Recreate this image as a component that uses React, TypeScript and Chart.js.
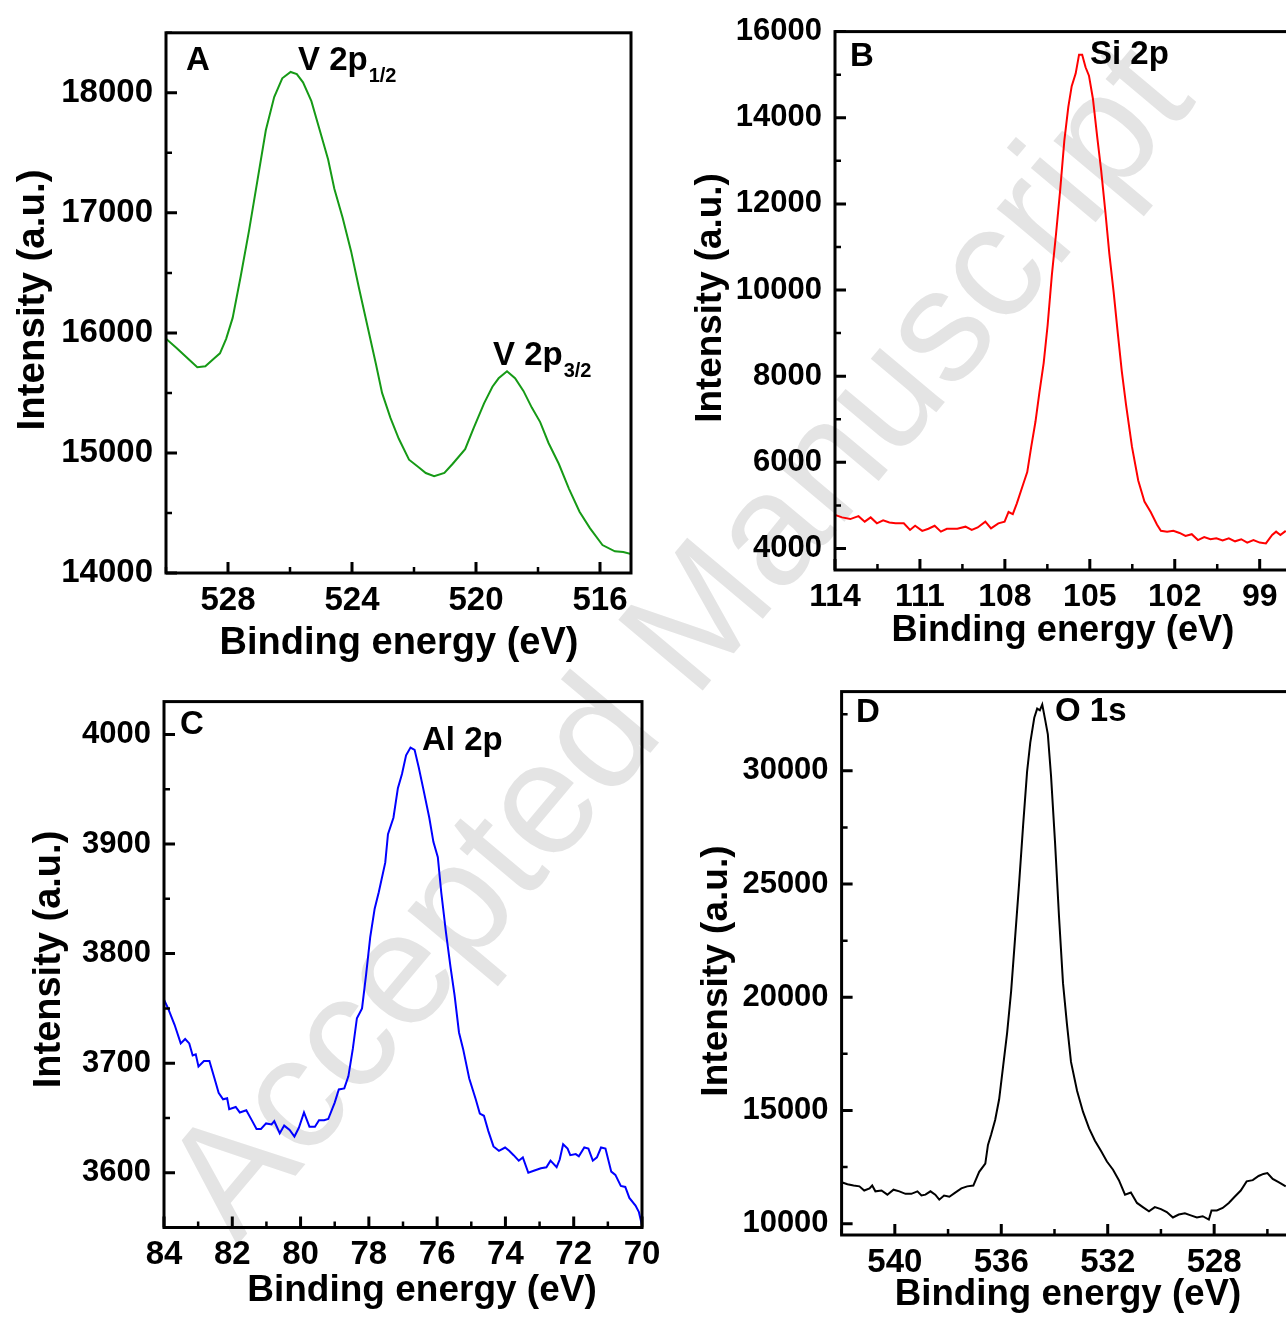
import React, { useEffect, useRef } from "react";
import { Chart, registerables } from "chart.js";

Chart.register(...registerables);

// ---------- Data ----------
// Panel A: V 2p
const vEnergy = [530, 529.66, 529.26, 528.99, 528.73, 528.46, 528.26, 528.06, 527.85, 527.59, 527.32, 527.05, 526.78, 526.51, 526.25, 525.98, 525.78, 525.58, 525.31, 525.04, 524.77, 524.57, 524.3, 524.03, 523.77, 523.5, 523.23, 523.03, 522.76, 522.49, 522.16, 521.82, 521.62, 521.35, 521.02, 520.75, 520.35, 520.08, 519.74, 519.47, 519.27, 519.0, 518.74, 518.47, 518.2, 517.93, 517.66, 517.33, 517.0, 516.66, 516.32, 515.92, 515.52, 515.25, 514.92];
const vIntensity = [15951, 15875, 15778, 15715, 15722, 15785, 15830, 15951, 16125, 16472, 16854, 17271, 17688, 17965, 18121, 18174, 18156, 18087, 17931, 17688, 17444, 17201, 16958, 16681, 16368, 16056, 15743, 15500, 15292, 15118, 14944, 14875, 14833, 14806, 14833, 14910, 15031, 15205, 15413, 15552, 15622, 15681, 15622, 15517, 15378, 15257, 15083, 14910, 14701, 14510, 14372, 14233, 14181, 14174, 14153];

// Panel B: Si 2p
const siEnergy = [114, 113.75, 113.46, 113.17, 112.95, 112.74, 112.52, 112.3, 112.08, 111.86, 111.57, 111.35, 111.17, 110.92, 110.7, 110.48, 110.26, 110.05, 109.68, 109.39, 109.17, 108.96, 108.69, 108.49, 108.23, 108.01, 107.87, 107.72, 107.58, 107.36, 107.21, 107.07, 106.92, 106.78, 106.63, 106.49, 106.34, 106.19, 106.05, 105.9, 105.76, 105.64, 105.5, 105.38, 105.27, 105.15, 105.03, 104.89, 104.74, 104.6, 104.45, 104.31, 104.16, 104.01, 103.87, 103.72, 103.51, 103.29, 103.07, 102.85, 102.63, 102.49, 102.27, 102.05, 101.83, 101.62, 101.4, 101.18, 100.96, 100.74, 100.53, 100.31, 100.09, 99.87, 99.65, 99.44, 99.22, 99.0, 98.78, 98.56, 98.42, 98.27, 98.08];
const siIntensity = [4779, 4721, 4682, 4750, 4623, 4721, 4584, 4653, 4604, 4584, 4584, 4429, 4526, 4409, 4458, 4526, 4390, 4458, 4458, 4506, 4429, 4487, 4623, 4468, 4584, 4623, 4847, 4798, 5042, 5480, 5773, 6357, 6941, 7623, 8305, 9182, 10350, 11324, 12298, 13467, 14246, 14733, 15025, 15464, 15464, 15172, 14977, 14441, 13564, 12785, 11812, 10838, 9961, 8987, 8110, 7331, 6357, 5578, 5091, 4847, 4555, 4409, 4390, 4409, 4360, 4292, 4331, 4195, 4263, 4214, 4234, 4185, 4234, 4166, 4214, 4136, 4195, 4136, 4117, 4312, 4390, 4312, 4409];

// Panel C: Al 2p
const alEnergy = [84, 83.88, 83.69, 83.51, 83.38, 83.26, 83.16, 83.07, 82.99, 82.83, 82.67, 82.52, 82.4, 82.27, 82.15, 82.09, 81.9, 81.78, 81.59, 81.43, 81.29, 81.16, 81.01, 80.85, 80.77, 80.61, 80.48, 80.32, 80.18, 80.05, 79.9, 79.74, 79.58, 79.46, 79.31, 79.19, 79.0, 78.88, 78.72, 78.6, 78.47, 78.35, 78.2, 78.08, 77.96, 77.83, 77.71, 77.52, 77.44, 77.28, 77.15, 77.03, 76.91, 76.78, 76.66, 76.54, 76.41, 76.23, 76.11, 75.98, 75.88, 75.74, 75.61, 75.49, 75.36, 75.24, 75.06, 74.87, 74.75, 74.63, 74.5, 74.35, 74.19, 74.01, 73.89, 73.76, 73.61, 73.49, 73.33, 73.15, 72.96, 72.8, 72.68, 72.5, 72.41, 72.31, 72.18, 72.1, 71.94, 71.85, 71.69, 71.57, 71.44, 71.32, 71.2, 71.07, 70.9, 70.78, 70.62, 70.49, 70.37, 70.19, 70.09, 70.0];
const alIntensity = [3758, 3750, 3735, 3718, 3722, 3718, 3707, 3708, 3697, 3702, 3702, 3686, 3673, 3667, 3668, 3658, 3660, 3655, 3657, 3648, 3640, 3640, 3645, 3644, 3647, 3636, 3643, 3639, 3633, 3641, 3655, 3642, 3642, 3648, 3648, 3649, 3664, 3676, 3677, 3688, 3713, 3741, 3750, 3781, 3815, 3841, 3856, 3883, 3909, 3924, 3951, 3964, 3981, 3988, 3986, 3970, 3951, 3924, 3902, 3888, 3856, 3819, 3788, 3762, 3728, 3713, 3686, 3667, 3654, 3652, 3638, 3624, 3620, 3623, 3620, 3616, 3611, 3614, 3600, 3602, 3604, 3605, 3611, 3605, 3612, 3626, 3622, 3616, 3617, 3615, 3623, 3622, 3611, 3614, 3623, 3622, 3601, 3598, 3588, 3587, 3577, 3570, 3564, 3552];

// Panel D: O 1s
const oEnergy = [542, 541.78, 541.55, 541.33, 541.15, 540.95, 540.85, 540.73, 540.5, 540.28, 540.05, 539.83, 539.6, 539.38, 539.15, 539.0, 538.85, 538.66, 538.48, 538.33, 538.15, 537.95, 537.73, 537.5, 537.28, 537.05, 536.83, 536.6, 536.5, 536.38, 536.23, 536.08, 535.93, 535.78, 535.63, 535.48, 535.33, 535.18, 535.03, 534.91, 534.76, 534.65, 534.55, 534.46, 534.35, 534.25, 534.13, 533.98, 533.83, 533.68, 533.53, 533.38, 533.15, 532.93, 532.7, 532.48, 532.25, 532.03, 531.8, 531.58, 531.35, 531.13, 530.9, 530.68, 530.45, 530.23, 530.0, 529.78, 529.55, 529.33, 529.1, 528.88, 528.65, 528.43, 528.2, 528.1, 527.9, 527.68, 527.45, 527.23, 527.0, 526.78, 526.55, 526.33, 526.15, 526.0, 525.8, 525.58, 525.31];
const oIntensity = [11832, 11740, 11685, 11648, 11465, 11557, 11685, 11429, 11465, 11282, 11502, 11429, 11319, 11319, 11429, 11245, 11282, 11429, 11282, 11062, 11245, 11190, 11374, 11557, 11648, 11685, 12289, 12656, 13480, 13938, 14579, 15495, 16960, 18425, 20256, 22637, 25018, 27582, 29963, 31245, 32344, 32747, 32674, 32930, 32253, 31612, 29780, 26850, 23553, 20623, 18791, 17143, 15861, 14945, 14212, 13663, 13205, 12747, 12381, 11923, 11282, 11374, 10916, 10733, 10549, 10733, 10641, 10513, 10275, 10403, 10458, 10366, 10275, 10330, 10183, 10586, 10586, 10696, 10916, 11190, 11465, 11868, 11923, 12106, 12198, 12234, 11978, 11832, 11648];

// Tick values
const aXMajor = [528, 524, 520, 516];
const aXMinor = [530, 526, 522, 518];
const aYMajor = [14000, 15000, 16000, 17000, 18000];
const aYMinor = [14500, 15500, 16500, 17500, 18500];

const bXMajor = [114, 111, 108, 105, 102, 99];
const bXMinor = [112.5, 109.5, 106.5, 103.5, 100.5];
const bYMajor = [4000, 6000, 8000, 10000, 12000, 14000, 16000];
const bYMinor = [5000, 7000, 9000, 11000, 13000, 15000];

const cXMajor = [84, 82, 80, 78, 76, 74, 72, 70];
const cXMinor = [83, 81, 79, 77, 75, 73, 71];
const cYMajor = [3600, 3700, 3800, 3900, 4000];
const cYMinor = [3550, 3650, 3750, 3850, 3950];

const dXMajor = [540, 536, 532, 528];
const dXMinor = [542, 538, 534, 530, 526];
const dYMajor = [10000, 15000, 20000, 25000, 30000];
const dYMinor = [12500, 17500, 22500, 27500, 32500];

const xTitle = "Binding energy (eV)";
const yTitle = "Intensity (a.u.)";
const watermark = "Accepted Manuscript";

// ---------- Layout / style ----------
const FONT = '"Liberation Sans", Arial, Helvetica, sans-serif';
const LABEL_FONT = 33;
const SUB_FONT = 20;

type Label = { text: string; sub?: string; x: number; y: number };
type Panel = {
  xs: number[]; ys: number[]; color: string;
  xMin: number; xMax: number; yMin: number; yMax: number;
  xMajor: number[]; xMinor: number[]; yMajor: number[]; yMinor: number[];
  canvas: { l: number; t: number; w: number; h: number };
  plot: { l: number; t: number; r: number; b: number };
  xTickFont: number; yTickFont: number;
  xTitleFont: number; yTitleFont: number;
  xTitleC: [number, number]; yTitleC: [number, number];
  labels: Label[];
};

const panels: Panel[] = [
  {
    xs: vEnergy, ys: vIntensity, color: "#169a16",
    xMin: 515, xMax: 530, yMin: 14000, yMax: 18500,
    xMajor: aXMajor, xMinor: aXMinor, yMajor: aYMajor, yMinor: aYMinor,
    canvas: { l: 0, t: 0, w: 700, h: 690 },
    plot: { l: 166, t: 29, r: 631, b: 573 },
    xTickFont: 33, yTickFont: 33, xTitleFont: 38, yTitleFont: 38.5,
    xTitleC: [399, 644], yTitleC: [33, 300],
    labels: [
      { text: "A", x: 186, y: 70 },
      { text: "V 2p", sub: "1/2", x: 298, y: 70 },
      { text: "V 2p", sub: "3/2", x: 493, y: 365 },
    ],
  },
  {
    xs: siEnergy, ys: siIntensity, color: "#ff0000",
    xMin: 98, xMax: 114, yMin: 3500, yMax: 16000,
    xMajor: bXMajor, xMinor: bXMinor, yMajor: bYMajor, yMinor: bYMinor,
    canvas: { l: 670, t: 0, w: 700, h: 690 },
    plot: { l: 835, t: 29.5, r: 1288, b: 570 },
    xTickFont: 32, yTickFont: 31, xTitleFont: 36.3, yTitleFont: 36.8,
    xTitleC: [1063, 631], yTitleC: [711, 298],
    labels: [
      { text: "B", x: 850, y: 66 },
      { text: "Si 2p", x: 1090, y: 64 },
    ],
  },
  {
    xs: alEnergy, ys: alIntensity, color: "#0000ff",
    xMin: 70, xMax: 84, yMin: 3550, yMax: 4030,
    xMajor: cXMajor, xMinor: cXMinor, yMajor: cYMajor, yMinor: cYMinor,
    canvas: { l: 0, t: 670, w: 700, h: 649 },
    plot: { l: 164, t: 694.5, r: 642, b: 1227.5 },
    xTickFont: 33, yTickFont: 31, xTitleFont: 37, yTitleFont: 38,
    xTitleC: [422, 1290.5], yTitleC: [49.5, 959.5],
    labels: [
      { text: "C", x: 180, y: 734 },
      { text: "Al 2p", x: 422, y: 750 },
    ],
  },
  {
    xs: oEnergy, ys: oIntensity, color: "#000000",
    xMin: 525, xMax: 542, yMin: 9500, yMax: 33500,
    xMajor: dXMajor, xMinor: dXMinor, yMajor: dYMajor, yMinor: dYMinor,
    canvas: { l: 670, t: 660, w: 700, h: 659 },
    plot: { l: 841.6, t: 684.4, r: 1294, b: 1235 },
    xTickFont: 33, yTickFont: 31, xTitleFont: 36.7, yTitleFont: 37.1,
    xTitleC: [1068, 1294.7], yTitleC: [717, 971],
    labels: [
      { text: "D", x: 856, y: 722 },
      { text: "O 1s", x: 1055, y: 721 },
    ],
  },
];

function decorPlugin(p: Panel) {
  return {
    id: "decor",
    afterDatasetsDraw(chart: any) {
      const ctx = chart.ctx as CanvasRenderingContext2D;
      const { left, right, top, bottom } = chart.chartArea;
      const xs = chart.scales.x;
      const ys = chart.scales.y;
      ctx.save();
      ctx.strokeStyle = "#000";
      ctx.lineCap = "butt";
      const xtick = (vals: number[], len: number, w: number) => {
        ctx.lineWidth = w;
        ctx.beginPath();
        for (const v of vals) {
          const px = xs.getPixelForValue(v);
          ctx.moveTo(px, bottom);
          ctx.lineTo(px, bottom - len);
        }
        ctx.stroke();
      };
      const ytick = (vals: number[], len: number, w: number) => {
        ctx.lineWidth = w;
        ctx.beginPath();
        for (const v of vals) {
          const py = ys.getPixelForValue(v);
          ctx.moveTo(left, py);
          ctx.lineTo(left + len, py);
        }
        ctx.stroke();
      };
      xtick(p.xMajor, 11, 3);
      xtick(p.xMinor, 6, 2.5);
      ytick(p.yMajor, 11, 3);
      ytick(p.yMinor, 6, 2.5);
      ctx.lineWidth = 3;
      ctx.strokeRect(left, top, right - left, bottom - top);

      ctx.fillStyle = "#000";
      // axis titles
      ctx.textAlign = "center";
      ctx.textBaseline = "middle";
      ctx.font = `bold ${p.xTitleFont}px ${FONT}`;
      ctx.fillText(xTitle, p.xTitleC[0] - p.canvas.l, p.xTitleC[1] - p.canvas.t);
      ctx.save();
      ctx.translate(p.yTitleC[0] - p.canvas.l, p.yTitleC[1] - p.canvas.t);
      ctx.rotate(-Math.PI / 2);
      ctx.font = `bold ${p.yTitleFont}px ${FONT}`;
      ctx.fillText(yTitle, 0, 0);
      ctx.restore();

      // peak labels
      ctx.textBaseline = "alphabetic";
      ctx.textAlign = "left";
      for (const lb of p.labels) {
        const lx = lb.x - p.canvas.l;
        const ly = lb.y - p.canvas.t;
        ctx.font = `bold ${LABEL_FONT}px ${FONT}`;
        ctx.fillText(lb.text, lx, ly);
        if (lb.sub) {
          const w = ctx.measureText(lb.text).width;
          ctx.font = `bold ${SUB_FONT}px ${FONT}`;
          ctx.fillText(lb.sub, lx + w + 1, ly + 12);
        }
      }
      ctx.restore();
    },
  };
}

function makeConfig(p: Panel): any {
  const cb = p.canvas;
  const yWidth = p.plot.l - cb.l;
  const xHeight = cb.t + cb.h - p.plot.b;
  return {
    type: "line",
    data: {
      datasets: [
        {
          data: p.xs.map((x, i) => ({ x, y: p.ys[i] })),
          borderColor: p.color,
          borderWidth: 2,
          pointRadius: 0,
          tension: 0,
          fill: false,
        },
      ],
    },
    options: {
      animation: false,
      responsive: false,
      events: [],
      layout: {
        padding: { left: 0, top: p.plot.t - cb.t, right: cb.l + cb.w - p.plot.r, bottom: 0 },
      },
      plugins: { legend: { display: false }, tooltip: { enabled: false } },
      scales: {
        x: {
          type: "linear",
          reverse: true,
          min: p.xMin,
          max: p.xMax,
          grid: { display: false, drawTicks: false, tickLength: 0 },
          border: { display: false },
          ticks: {
            color: "#000",
            font: { family: FONT, size: p.xTickFont, weight: "bold" },
            padding: 8,
            maxRotation: 0,
            autoSkip: false,
            callback: (v: any) => String(v),
          },
          title: { display: false },
          afterBuildTicks: (s: any) => {
            s.ticks = p.xMajor.map((v) => ({ value: v }));
          },
          afterFit: (s: any) => {
            s.height = xHeight;
          },
        },
        y: {
          type: "linear",
          min: p.yMin,
          max: p.yMax,
          grid: { display: false, drawTicks: false, tickLength: 0 },
          border: { display: false },
          ticks: {
            color: "#000",
            font: { family: FONT, size: p.yTickFont, weight: "bold" },
            padding: 13,
            autoSkip: false,
            callback: (v: any) => String(v),
          },
          title: { display: false },
          afterBuildTicks: (s: any) => {
            s.ticks = p.yMajor.map((v) => ({ value: v }));
          },
          afterFit: (s: any) => {
            s.width = yWidth;
          },
        },
      },
    },
    plugins: [decorPlugin(p)],
  };
}

function PanelChart({ p }: { p: Panel }) {
  const ref = useRef<HTMLCanvasElement | null>(null);
  useEffect(() => {
    if (!ref.current) return;
    const chart = new Chart(ref.current, makeConfig(p));
    return () => chart.destroy();
  }, [p]);
  return (
    <canvas
      ref={ref}
      width={p.canvas.w}
      height={p.canvas.h}
      style={{
        position: "absolute",
        left: p.canvas.l,
        top: p.canvas.t,
        width: p.canvas.w,
        height: p.canvas.h,
      }}
    />
  );
}

export default function App() {
  return (
    <div
      style={{
        position: "absolute",
        left: 0,
        top: 0,
        width: 1286,
        height: 1319,
        overflow: "hidden",
        background: "#fff",
      }}
    >
      <div
        style={{
          position: "absolute",
          left: 675,
          top: 638,
          transform: "translate(-50%, -50%) rotate(-50deg)",
          fontFamily: FONT,
          fontSize: 160,
          lineHeight: 1,
          color: "#e4e4e4",
          whiteSpace: "nowrap",
          pointerEvents: "none",
        }}
      >
        {watermark}
      </div>
      {panels.map((p, i) => (
        <PanelChart key={i} p={p} />
      ))}
    </div>
  );
}
